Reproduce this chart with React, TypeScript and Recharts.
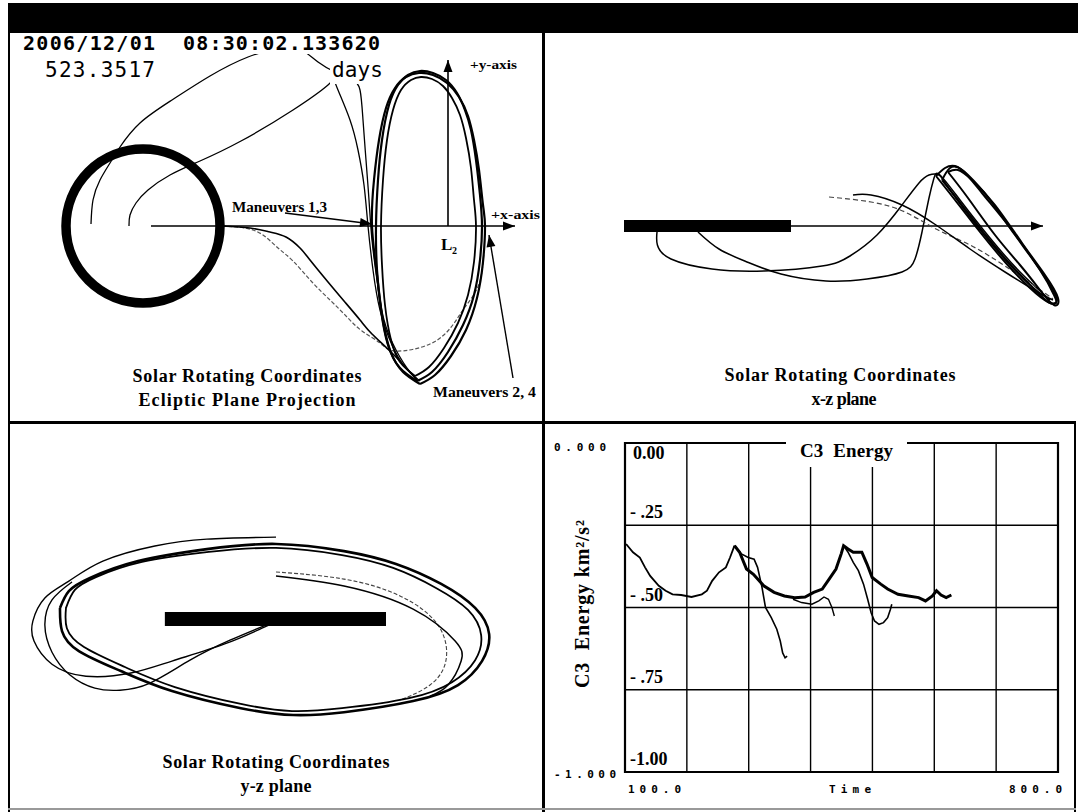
import React from 'react';
import {
  LineChart,
  Line,
  XAxis,
  YAxis,
  CartesianGrid,
  ReferenceDot,
  ReferenceArea,
} from 'recharts';

const serif = "'Liberation Serif', 'Times New Roman', serif";
const mono = "'DejaVu Sans Mono', monospace";

// Ecliptic plane projection, [x, y] in 1000 km, Earth at the origin
const eclipticXAxis = [[40, 0], [1860, 0]];
const eclipticYAxis = [[1525, 0], [1525, 830]];
const maneuver13Arrow = [[710, 65], [1145, 10]];
const maneuver24Arrow = [[1850, -760], [1730, -45]];
const eclipticTransferA = [
  [-260, 10], [-250, 130], [-215, 230], [-165, 315], [-115, 395], [-15, 515], [145, 630],
  [335, 750], [525, 845], [685, 890], [785, 885], [875, 820], [960, 770], [1045, 730],
  [1085, 680], [1100, 530], [1115, 330], [1130, 130], [1145, -70], [1170, -270],
  [1205, -470], [1265, -620], [1335, -730], [1385, -775],
];
const eclipticTransferB = [
  [-70, 0], [-65, 55], [-35, 115], [25, 180], [135, 255], [285, 325], [490, 425], [750, 580],
  [925, 705], [955, 735], [975, 680], [1035, 530], [1075, 380], [1105, 205], [1125, 0],
  [1150, -220], [1185, -420], [1245, -595], [1310, -705], [1370, -765],
];
const eclipticHaloRev1 = [
  [1370, -775], [1285, -710], [1225, -595], [1190, -420], [1170, -220], [1165, 0], [1175, 230],
  [1195, 430], [1230, 605], [1275, 705], [1325, 755], [1385, 775], [1450, 765], [1515, 730],
  [1570, 665], [1610, 580], [1640, 480], [1665, 330], [1685, 155], [1695, 0], [1685, -170],
  [1655, -345], [1600, -495], [1525, -630], [1445, -730], [1370, -775],
];
const eclipticHaloRev2 = [
  [1360, -750], [1285, -680], [1240, -570], [1210, -395], [1195, -195], [1190, 0], [1200, 230],
  [1220, 430], [1250, 580], [1290, 680], [1340, 730], [1390, 745], [1445, 735], [1500, 700],
  [1545, 640], [1585, 555], [1615, 440], [1640, 290], [1655, 130], [1665, 0], [1655, -180],
  [1625, -345], [1575, -485], [1505, -610], [1430, -705], [1360, -750],
];
const eclipticHaloRev3 = [
  [1385, -790], [1300, -730], [1235, -620], [1195, -445], [1170, -245], [1145, 0], [1155, 230],
  [1180, 430], [1215, 590], [1260, 690], [1315, 745], [1380, 765], [1450, 755], [1520, 715],
  [1580, 645], [1625, 550], [1655, 430], [1680, 280], [1700, 105], [1710, 0], [1700, -180],
  [1670, -360], [1615, -520], [1540, -650], [1460, -745], [1385, -790],
];
const eclipticLowerTransfer1 = [
  [395, 0], [535, -10], [635, -30], [715, -55], [785, -110], [835, -170], [925, -280],
  [1005, -375], [1085, -470], [1145, -540], [1250, -640], [1370, -770],
];
const eclipticLowerTransfer2 = [
  [395, 0], [510, -10], [600, -45], [675, -110], [750, -175], [845, -280], [940, -375],
  [1020, -455], [1095, -525], [1185, -585], [1265, -625], [1435, -590], [1545, -500],
  [1610, -405], [1680, -290], [1705, -120],
];

// x-z plane, [x, z] in 1000 km
const xzMoonOrbit = [[-415, 0], [420, 0]];
const xzAxis = [[420, 0], [1680, 0]];
const xzTransferA = [
  [-250, -30], [-248, -95], [-180, -165], [25, -215], [285, -225], [575, -200], [715, -150],
  [850, -45], [975, 105], [1060, 215], [1110, 255], [1160, 255], [1205, 195], [1315, 45],
  [1465, -140], [1615, -295], [1715, -370],
];
const xzTransferB = [
  [-45, -30], [60, -115], [200, -180], [370, -240], [595, -275], [800, -265], [975, -230],
  [1040, -165], [1075, -30], [1110, 140], [1135, 240], [1165, 255], [1265, 130], [1415, -60],
  [1565, -230], [1705, -360],
];
const xzArcC = [
  [610, 145], [820, 120], [990, 70], [1145, -15], [1315, -95], [1490, -200], [1660, -315], [1730, -365],
];
const xzArcD = [
  [730, 155], [820, 155], [975, 105], [1145, 5], [1315, -115], [1490, -230], [1660, -335], [1730, -370],
];
const xzHaloRev1 = [
  [1145, 250], [1240, 130], [1365, -30], [1490, -180], [1615, -310], [1705, -380], [1745, -385],
  [1735, -345], [1665, -220], [1540, -45], [1415, 130], [1305, 255], [1240, 300], [1190, 290], [1145, 250],
];
const xzHaloRev2 = [
  [1175, 230], [1275, 105], [1405, -60], [1525, -200], [1640, -320], [1715, -385], [1750, -370],
  [1715, -295], [1625, -160], [1505, 5], [1375, 165], [1275, 280], [1215, 290], [1175, 230],
];
const xzHaloRev3 = [
  [1205, 270], [1305, 140], [1440, -45], [1565, -195], [1665, -320], [1735, -395], [1755, -360],
  [1690, -245], [1575, -85], [1440, 105], [1325, 230], [1255, 280], [1205, 270],
];

// y-z plane, [y, z] in 1000 km
const yzMoonOrbit = [[-389, 0], [385, 0]];
const yzHaloRev1 = [
  [-756, 39], [-725, 98], [-651, 144], [-483, 203], [-242, 245], [0, 263], [238, 238], [420, 193],
  [578, 123], [697, 39], [746, -53], [721, -147], [637, -231], [480, -287], [238, -326], [60, -336],
  [-123, -312], [-364, -252], [-543, -182], [-690, -112], [-749, -42], [-756, 39],
];
const yzHaloRev2 = [
  [-735, 39], [-704, 102], [-630, 147], [-469, 200], [-235, 235], [0, 249], [231, 224], [410, 179],
  [560, 109], [672, 32], [718, -56], [697, -144], [616, -221], [466, -277], [231, -312], [56, -322],
  [-119, -298], [-354, -238], [-529, -168], [-672, -98], [-732, -32], [-735, 39],
];
const yzOuterLoop = [
  [0, 287], [-242, 280], [-424, 256], [-606, 203], [-725, 133], [-809, 74], [-851, -7], [-847, -77],
  [-784, -158], [-665, -200], [-508, -189], [-364, -147], [-182, -88], [-49, -32], [0, -11],
];
const yzReturnLoop = [
  [-35, -21], [-161, -74], [-301, -144], [-441, -224], [-546, -249], [-634, -242], [-721, -196],
  [-784, -116], [-809, -21], [-784, 67], [-714, 130],
];
const yzInnerArc1 = [[0, 165], [238, 140], [434, 81], [567, -21], [595, -144], [539, -231], [434, -284]];
const yzInnerArc2 = [[0, 151], [238, 116], [480, 35], [627, -77], [648, -147], [602, -231], [539, -270]];

// C3 energy, [time (days), C3 (km^2/s^2)]
const c3FirstPass = [
  [101.8, -0.307], [112.9, -0.332], [124.0, -0.348], [132.4, -0.378], [140.7, -0.404],
  [154.6, -0.434], [165.7, -0.449], [176.9, -0.46], [190.8, -0.462], [207.5, -0.468],
  [224.2, -0.46], [232.5, -0.449], [240.9, -0.419], [252.0, -0.393], [263.1, -0.378],
  [269.8, -0.348], [277.0, -0.312],
];
const c3MainPass = [
  [277.0, -0.312], [285.3, -0.332], [296.4, -0.383], [307.6, -0.399], [324.3, -0.434],
  [341.0, -0.454], [357.7, -0.465], [374.4, -0.47], [391.1, -0.468], [405.0, -0.454],
  [418.9, -0.444], [430.0, -0.414], [441.1, -0.383], [449.5, -0.337], [453.4, -0.312],
  [460.6, -0.322], [469.0, -0.332], [482.9, -0.332], [491.2, -0.368], [499.6, -0.409],
  [513.5, -0.429], [524.6, -0.444], [541.3, -0.46], [558.0, -0.465], [574.7, -0.47],
  [585.8, -0.48], [597.0, -0.465], [603.6, -0.449], [610.9, -0.462], [619.2, -0.47], [627.6, -0.462],
];
const c3Branch1 = [
  [277.0, -0.312], [288.1, -0.337], [299.2, -0.348], [308.7, -0.353], [314.3, -0.378],
  [321.5, -0.439], [327.1, -0.5], [336.5, -0.531], [345.4, -0.566], [351.0, -0.602],
  [354.9, -0.638], [358.8, -0.653], [362.1, -0.648],
];
const c3Hook = [
  [371.6, -0.475], [385.5, -0.485], [402.2, -0.49], [413.3, -0.48], [421.7, -0.468],
  [428.9, -0.475], [434.5, -0.5], [438.4, -0.526],
];
const c3Branch2 = [
  [453.4, -0.312], [460.6, -0.332], [469.0, -0.363], [477.3, -0.388], [485.6, -0.429],
  [492.3, -0.475], [497.9, -0.516], [503.4, -0.541], [510.6, -0.551], [517.9, -0.546],
  [524.6, -0.531], [529.0, -0.506], [531.3, -0.49],
];

const timeTicks = [100, 200, 300, 400, 500, 600, 700, 800];
const timeRangeLabels = ['100.0', '800.0'];
const energyTicks = [0, -0.25, -0.5, -0.75, -1];
const energyTickLabels = ['0.00', '- .25', '- .50', '- .75', '-1.00'];
const energyRangeLabels = ['0.000', '-1.000'];

const xy = (pts: number[][]) => pts.map(([x, y]) => ({ x, y }));
const te = (pts: number[][]) => pts.map(([t, e]) => ({ t, e }));

type Trace = { pts: number[][]; w: number; color?: string; dash?: string; linear?: boolean; arrow?: number };

// arrowhead drawn on the second point of a two-point line
function arrowDot(deg: number, len = 12, half = 4.5) {
  return (p: any) => {
    const key = `arrow-${p.index}`;
    if (p.index !== 1 || p.cx == null) return <g key={key} />;
    const a = (deg * Math.PI) / 180;
    const c = Math.cos(a);
    const s = Math.sin(a);
    const bx = p.cx - len * c;
    const by = p.cy - len * s;
    const pts = [
      [p.cx, p.cy],
      [bx - half * s, by + half * c],
      [bx + half * s, by - half * c],
    ];
    return <polygon key={key} points={pts.map((q) => q.join(',')).join(' ')} fill="#000" />;
  };
}

function OrbitPanel(props: {
  left: number;
  top: number;
  width: number;
  height: number;
  xDomain: [number, number];
  yDomain: [number, number];
  traces: Trace[];
  ring?: { r: number; w: number };
}) {
  const { left, top, width, height, xDomain, yDomain, traces, ring } = props;
  return (
    <div style={{ position: 'absolute', left, top }}>
      <LineChart width={width} height={height} margin={{ top: 0, right: 0, bottom: 0, left: 0 }}>
        <XAxis type="number" dataKey="x" domain={xDomain} allowDataOverflow hide />
        <YAxis type="number" domain={yDomain} allowDataOverflow hide />
        {traces.map((tr, i) => (
          <Line
            key={i}
            data={xy(tr.pts)}
            dataKey="y"
            type={tr.linear ? 'linear' : 'natural'}
            stroke={tr.color ?? '#000'}
            strokeWidth={tr.w}
            strokeDasharray={tr.dash}
            dot={tr.arrow !== undefined ? arrowDot(tr.arrow) : false}
            activeDot={false}
            isAnimationActive={false}
          />
        ))}
        {ring && (
          <ReferenceDot x={0} y={0} r={ring.r} fill="none" stroke="#000" strokeWidth={ring.w} />
        )}
      </LineChart>
    </div>
  );
}

const EnergyTick = (p: any) => {
  const v = p.payload.value;
  const i = energyTicks.indexOf(v);
  const y = p.y;
  const small = { fontFamily: mono, fontSize: 11, fontWeight: 700, fill: '#000' } as const;
  return (
    <g>
      {v === 0 && (
        <text x={9} y={y + 8} {...small} textLength={52} lengthAdjust="spacing">
          {energyRangeLabels[0]}
        </text>
      )}
      {v === -1 && (
        <text x={9} y={y + 6} {...small} textLength={62} lengthAdjust="spacing">
          {energyRangeLabels[1]}
        </text>
      )}
      <text
        x={v === 0 ? 88 : 85}
        y={v === 0 ? y + 16 : y - 7}
        fontFamily={serif}
        fontWeight={700}
        fontSize={18}
        fill="#000"
      >
        {energyTickLabels[i]}
      </text>
    </g>
  );
};

const TimeTick = (p: any) => {
  const v = p.payload.value;
  if (v !== 100 && v !== 800) return <g />;
  const first = v === 100;
  return (
    <text
      x={first ? p.x + 3 : p.x + 4}
      y={369}
      textAnchor={first ? 'start' : 'end'}
      fontFamily={mono}
      fontSize={11}
      fontWeight={700}
      fill="#000"
      textLength={53}
      lengthAdjust="spacing"
    >
      {first ? timeRangeLabels[0] : timeRangeLabels[1]}
    </text>
  );
};

function EnergyPanel() {
  return (
    <div style={{ position: 'absolute', left: 545, top: 424 }}>
      <LineChart width={530} height={386} margin={{ top: 19, right: 17, bottom: 0, left: 0 }}>
        <CartesianGrid stroke="#000" strokeWidth={1.4} />
        <XAxis
          type="number"
          dataKey="t"
          domain={[100, 800]}
          ticks={timeTicks}
          interval={0}
          allowDataOverflow
          height={38}
          axisLine={false}
          tickLine={false}
          tick={TimeTick}
        />
        <YAxis
          type="number"
          domain={[-1, 0]}
          ticks={energyTicks}
          interval={0}
          allowDataOverflow
          width={80}
          axisLine={false}
          tickLine={false}
          tick={EnergyTick}
        />
        <ReferenceArea x1={100} x2={800} y1={-1} y2={0} fill="none" stroke="#000" strokeWidth={2.2} />
        <Line data={te(c3FirstPass)} dataKey="e" type="linear" stroke="#000" strokeWidth={1.8} dot={false} isAnimationActive={false} />
        <Line data={te(c3MainPass)} dataKey="e" type="linear" stroke="#000" strokeWidth={3} dot={false} isAnimationActive={false} />
        <Line data={te(c3Branch1)} dataKey="e" type="linear" stroke="#000" strokeWidth={1.6} dot={false} isAnimationActive={false} />
        <Line data={te(c3Hook)} dataKey="e" type="linear" stroke="#000" strokeWidth={1.4} dot={false} isAnimationActive={false} />
        <Line data={te(c3Branch2)} dataKey="e" type="linear" stroke="#000" strokeWidth={1.6} dot={false} isAnimationActive={false} />
      </LineChart>
    </div>
  );
}

function Labels() {
  const bold = { fontFamily: serif, fontWeight: 700 } as const;
  return (
    <svg width={1078} height={812} style={{ position: 'absolute', left: 0, top: 0, pointerEvents: 'none' }}>
      {/* date / elapsed time readout */}
      <rect x={20} y={33} width={364} height={21} fill="#fff" />
      <text x={23} y={50} fontFamily={mono} fontWeight={700} fontSize={20} textLength={132} lengthAdjust="spacing">2006/12/01</text>
      <text x={183} y={50} fontFamily={mono} fontWeight={700} fontSize={20} textLength={197} lengthAdjust="spacing">08:30:02.133620</text>
      <rect x={43} y={57} width={115} height={25} fill="#fff" />
      <text x={45} y={77} fontFamily={mono} fontSize={21} textLength={110} lengthAdjust="spacing">523.3517</text>
      <rect x={330} y={57} width={56} height={27} fill="#fff" />
      <text x={332} y={77} fontFamily={mono} fontSize={21} textLength={51} lengthAdjust="spacing">days</text>

      {/* ecliptic panel annotations */}
      <text x={470} y={69} {...bold} fontSize={13} textLength={47} lengthAdjust="spacingAndGlyphs">+y-axis</text>
      <text x={491} y={219} {...bold} fontSize={13} textLength={49} lengthAdjust="spacingAndGlyphs">+x-axis</text>
      <text x={232} y={212} {...bold} fontSize={14} textLength={95} lengthAdjust="spacingAndGlyphs">Maneuvers 1,3</text>
      <text x={441} y={250} {...bold} fontSize={17}>L</text>
      <text x={452} y={254} {...bold} fontSize={10}>2</text>
      <text x={433} y={397} {...bold} fontSize={14} textLength={103} lengthAdjust="spacingAndGlyphs">Maneuvers 2, 4</text>
      <text x={247} y={382} {...bold} fontSize={18} textAnchor="middle" textLength={229}>Solar Rotating Coordinates</text>
      <text x={247} y={406} {...bold} fontSize={18} textAnchor="middle" textLength={217}>Ecliptic Plane Projection</text>

      {/* x-z and y-z panel titles */}
      <text x={840} y={381} {...bold} fontSize={18} textAnchor="middle" textLength={231}>Solar Rotating Coordinates</text>
      <text x={844} y={405} {...bold} fontSize={18} textAnchor="middle" textLength={65}>x-z plane</text>
      <text x={276} y={768} {...bold} fontSize={18} textAnchor="middle" textLength={227}>Solar Rotating Coordinates</text>
      <text x={276} y={792} {...bold} fontSize={18} textAnchor="middle" textLength={71}>y-z plane</text>

      {/* C3 energy panel */}
      <rect x={786} y={439} width={121} height={28} fill="#fff" />
      <text x={800} y={457} {...bold} fontSize={19} textLength={93} style={{ whiteSpace: 'pre' }}>C3  Energy</text>
      <text x={829} y={793} fontFamily={mono} fontWeight={700} fontSize={11} textLength={42} lengthAdjust="spacing">Time</text>
      <text
        x={589}
        y={604}
        {...bold}
        fontSize={20}
        textAnchor="middle"
        textLength={168}
        transform="rotate(-90 589 604)"
        style={{ whiteSpace: 'pre' }}
      >
        C3  Energy km²/s²
      </text>
    </svg>
  );
}

const line = (left: number, top: number, width: number, height: number, color = '#000') => (
  <div style={{ position: 'absolute', left, top, width, height, background: color }} />
);

export default function App() {
  return (
    <div style={{ position: 'absolute', left: 0, top: 0, width: 1078, height: 812, background: '#fff', overflow: 'hidden' }}>
      <OrbitPanel
        left={10}
        top={33}
        width={532}
        height={388}
        xDomain={[-665, 1995]}
        yDomain={[-975, 965]}
        ring={{ r: 77, w: 9.5 }}
        traces={[
          { pts: eclipticLowerTransfer2, w: 1.2, color: '#555', dash: '4 2' },
          { pts: eclipticLowerTransfer1, w: 1.6 },
          { pts: eclipticTransferA, w: 1.3 },
          { pts: eclipticTransferB, w: 1.3 },
          { pts: eclipticHaloRev1, w: 2.2 },
          { pts: eclipticHaloRev2, w: 1.8 },
          { pts: eclipticHaloRev3, w: 2.2 },
          { pts: eclipticXAxis, w: 1.6, linear: true, arrow: 0 },
          { pts: eclipticYAxis, w: 1.6, linear: true, arrow: -90 },
          { pts: maneuver13Arrow, w: 1.4, linear: true, arrow: 7.2 },
          { pts: maneuver24Arrow, w: 1.4, linear: true, arrow: -99.5 },
        ]}
      />
      <OrbitPanel
        left={545}
        top={33}
        width={530}
        height={388}
        xDomain={[-810, 1840]}
        yDomain={[-975, 965]}
        traces={[
          { pts: xzMoonOrbit, w: 12, linear: true },
          { pts: xzAxis, w: 1.6, linear: true, arrow: 0 },
          { pts: xzTransferA, w: 1.5 },
          { pts: xzTransferB, w: 1.5 },
          { pts: xzArcC, w: 1.2, color: '#444', dash: '5 3' },
          { pts: xzArcD, w: 1.5 },
          { pts: xzHaloRev1, w: 2 },
          { pts: xzHaloRev2, w: 2 },
          { pts: xzHaloRev3, w: 2 },
        ]}
      />
      <OrbitPanel
        left={10}
        top={424}
        width={532}
        height={385}
        xDomain={[-931, 931]}
        yDomain={[-665, 683]}
        traces={[
          { pts: yzMoonOrbit, w: 14, linear: true },
          { pts: yzOuterLoop, w: 1.4 },
          { pts: yzReturnLoop, w: 1.4 },
          { pts: yzInnerArc1, w: 1.1, color: '#444', dash: '4 2' },
          { pts: yzInnerArc2, w: 1.5 },
          { pts: yzHaloRev1, w: 2.6 },
          { pts: yzHaloRev2, w: 1.8 },
        ]}
      />
      <EnergyPanel />

      {/* window frame */}
      {line(8, 3, 1070, 30)}
      {line(8, 33, 2, 779)}
      {line(542, 33, 3, 779)}
      {line(8, 421, 1068, 3)}
      {line(1074, 421, 2, 391)}
      {line(8, 808, 1068, 2, '#999')}
      <Labels />
    </div>
  );
}
